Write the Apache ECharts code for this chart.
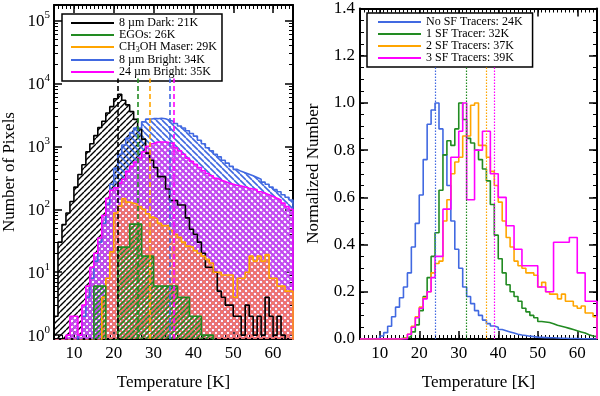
<!DOCTYPE html>
<html>
<head>
<meta charset="utf-8">
<script src="https://cdn.jsdelivr.net/npm/echarts@6/dist/echarts.min.js"></script>
<style>
html,body{margin:0;padding:0;background:#fff}
#main{width:600px;height:396px}
</style>
</head>
<body>
<div id="main"></div>
<script>
// temperature bins (left edges, K)
var tBins = [5,6,7,8,9,10,11,12,13,14,15,16,17,18,19,20,21,22,23,24,25,26,27,28,29,30,31,32,33,34,
             35,36,37,38,39,40,41,42,43,44,45,46,47,48,49,50,51,52,53,54,55,56,57,58,59,60,61,62,63,64];
var egoBins = [15,18,21,24,27,30,33,36,39,42];

// left panel: number of pixels
var darkPix = [2,30,57,87,133,225,357,510,818,1100,1480,1990,2500,3380,4270,5700,6700,5400,4550,3560,
               2680,1900,1300,780,600,460,330,330,210,138,138,117,117,73,48,40,30,20,12,12,
               10,5,4,3,3,2,2,1,3,2,1,2,1,4,2,1,2,1,0,0];
var brightPix = [0,0,0,0,0,0,1,2,4,8,15,30,60,120,250,450,750,1050,1350,1650,
                 1950,1950,2450,2700,2750,2750,2800,2750,2600,2500,2300,2100,1950,1770,1600,1450,1250,1100,950,850,
                 750,680,600,540,480,430,400,380,360,340,320,300,270,250,225,205,190,170,155,140];
var b24Pix = [0,0,0,1,2,2,1,3,6,12,20,35,80,150,200,220,260,300,400,480,
              560,650,820,1000,1100,1170,1170,1170,1150,1100,950,850,750,650,580,520,460,410,370,340,
              310,290,275,260,250,240,235,225,215,210,205,190,180,170,160,150,140,125,110,100];
var maserPix = [0,0,0,0,0,0,0,0,0,0,0,0,4,8,21,87,112,148,130,125,
                120,110,100,85,75,70,60,55,55,46,40,36,30,26,25,22,20,18,16,14,
                10,10,9,9,9,4,8,8,10,18,15,18,15,19,8,8,6,6,5,5];
var egoPix = [6,0,25,58,18,6,6,4,2,1];
var mediansLeft = [21,26,29,34,35];

// right panel: normalized number
var noSF = [0,0,0,0,0.003,0.013,0.027,0.054,0.094,0.135,0.175,0.22,0.28,0.39,0.49,0.61,0.76,0.91,0.97,1.0,
            0.89,0.78,0.65,0.5,0.38,0.3,0.22,0.18,0.15,0.12,0.1,0.08,0.065,0.055,0.05,0.04,0.035,0.03,0.025,0.02,
            0.017,0.015,0.012,0.01,0.008,0.007,0.006,0.005,0.005,0.004,0.003,0.003,0.002,0.002,0.002,0.001,0.001,0.001,0,0];
var oneSF = [0,0,0,0,0,0,0,0,0,0,0.003,0.005,0.01,0.03,0.06,0.12,0.18,0.26,0.35,0.45,
             0.63,0.78,0.84,0.82,0.89,1.0,0.93,0.85,0.83,0.80,0.76,0.72,0.67,0.57,0.44,0.34,0.28,0.23,0.20,0.18,
             0.16,0.13,0.115,0.10,0.09,0.074,0.072,0.07,0.065,0.058,0.054,0.05,0.045,0.04,0.035,0.03,0.025,0.018,0.013,0.01];
var twoSF = [0,0,0,0,0,0,0,0,0,0,0.002,0.005,0.02,0.054,0.094,0.135,0.175,0.2,0.28,0.32,
             0.33,0.5,0.59,0.7,0.75,0.77,0.86,0.86,0.99,1.0,0.82,0.82,0.77,0.71,0.65,0.58,0.5,0.43,0.39,0.33,
             0.31,0.30,0.28,0.28,0.27,0.22,0.24,0.2,0.19,0.19,0.17,0.19,0.16,0.16,0.14,0.13,0.14,0.11,0.11,0.094];
var threeSF = [0,0,0,0,0,0,0,0,0,0,0,0,0.02,0.05,0.09,0.13,0.17,0.2,0.26,0.35,
               0.35,0.55,0.55,0.77,0.77,0.88,1.0,0.59,0.59,0.80,0.80,0.88,0.88,0.70,0.70,0.60,0.60,0.48,0.48,0.38,
               0.38,0.31,0.31,0.31,0.31,0.22,0.22,0.2,0.2,0.41,0.41,0.41,0.41,0.43,0.43,0.28,0.28,0.16,0.16,0.16];
var mediansRight = [24,32,37,39];

var FONT = 'Liberation Serif';
var BLUE = '#4169e1', GREEN = '#228b22', ORANGE = '#ffa500', MAGENTA = '#ff00ff';

// histogram outline as step points (bin edges + value)
function histPoints(edges, vals, width, floor) {
    var pts = [[edges[0], floor]];
    for (var i = 0; i < vals.length; i++) {
        var v = vals[i] > 0 ? vals[i] : floor;
        pts.push([edges[i], v]);
        pts.push([edges[i] + width, v]);
    }
    pts.push([edges[edges.length - 1] + width, floor]);
    return pts;
}

// hatch pattern tiles
function hatch(color, dir, gap, lw) {
    var c = document.createElement('canvas');
    c.width = gap; c.height = gap;
    var ctx = c.getContext('2d');
    ctx.strokeStyle = color;
    ctx.lineWidth = lw;
    function diag(d) {
        ctx.beginPath();
        for (var k = -1; k <= 1; k++) {
            if (d > 0) { ctx.moveTo(k * gap, gap); ctx.lineTo(k * gap + gap, 0); }
            else { ctx.moveTo(k * gap, 0); ctx.lineTo(k * gap + gap, gap); }
        }
        ctx.stroke();
    }
    if (dir === 'x') { diag(1); diag(-1); } else { diag(dir); }
    return {image: c, repeat: 'repeat'};
}

var majorX = [10,20,30,40,50,60];
var majorLog = [1,10,100,1000,10000,100000];
var minorLog = [];
for (var p = 0; p < 6; p++) {
    for (var m = 2; m <= 9; m++) minorLog.push(m * Math.pow(10, p));
}

function xAxes(grid) {
    var base = {type: 'value', gridIndex: grid, min: 5, max: 65, splitLine: {show: false}};
    return [
        Object.assign({}, base, {
            position: 'bottom',
            axisLine: {show: true, onZero: false, lineStyle: {color: '#000', width: 2}},
            axisTick: {inside: true, length: 8, customValues: majorX, lineStyle: {color: '#000', width: 1.5}},
            axisLabel: {customValues: majorX, fontFamily: FONT, fontSize: 17, color: '#000', margin: 6},
            name: 'Temperature [K]', nameLocation: 'middle', nameGap: 35,
            nameTextStyle: {fontFamily: FONT, fontSize: 17, color: '#000'}
        }),
        Object.assign({}, base, {
            position: 'bottom', interval: 1,
            axisLine: {show: false, onZero: false},
            axisTick: {inside: true, length: 4, lineStyle: {color: '#000', width: 1}},
            axisLabel: {show: false}
        }),
        Object.assign({}, base, {
            position: 'top',
            axisLine: {show: true, onZero: false, lineStyle: {color: '#000', width: 2}},
            axisTick: {inside: true, length: 8, customValues: majorX, lineStyle: {color: '#000', width: 1.5}},
            axisLabel: {show: false}
        }),
        Object.assign({}, base, {
            position: 'top', interval: 1,
            axisLine: {show: false, onZero: false},
            axisTick: {inside: true, length: 4, lineStyle: {color: '#000', width: 1}},
            axisLabel: {show: false}
        })
    ];
}

var logBase = {type: 'log', gridIndex: 0, min: 0.868, max: 176000, splitLine: {show: false}};
var linBase = {type: 'value', gridIndex: 1, min: 0, max: 1.4, splitLine: {show: false}};

var yAxes = [
    Object.assign({}, logBase, {
        position: 'left',
        axisLine: {show: true, onZero: false, lineStyle: {color: '#000', width: 2}},
        axisTick: {inside: true, length: 8, customValues: majorLog, lineStyle: {color: '#000', width: 1.5}},
        axisLabel: {
            customValues: majorLog, margin: 4, color: '#000',
            formatter: function (v) { return '{b|10}{s|' + Math.round(Math.log10(v)) + '}'; },
            rich: {
                b: {fontFamily: FONT, fontSize: 17, lineHeight: 17, color: '#000', padding: [3, 0, 1, 0]},
                s: {fontFamily: FONT, fontSize: 11, lineHeight: 11, color: '#000', padding: [0, 0, 10, 0]}
            }
        },
        name: 'Number of Pixels', nameLocation: 'middle', nameGap: 36,
        nameTextStyle: {fontFamily: FONT, fontSize: 17, color: '#000'}
    }),
    Object.assign({}, logBase, {
        position: 'left',
        axisLine: {show: false, onZero: false},
        axisTick: {inside: true, length: 4, customValues: minorLog, lineStyle: {color: '#000', width: 1}},
        axisLabel: {show: false}
    }),
    Object.assign({}, logBase, {
        position: 'right',
        axisLine: {show: true, onZero: false, lineStyle: {color: '#000', width: 2}},
        axisTick: {inside: true, length: 8, customValues: majorLog, lineStyle: {color: '#000', width: 1.5}},
        axisLabel: {show: false}
    }),
    Object.assign({}, logBase, {
        position: 'right',
        axisLine: {show: false, onZero: false},
        axisTick: {inside: true, length: 4, customValues: minorLog, lineStyle: {color: '#000', width: 1}},
        axisLabel: {show: false}
    }),
    Object.assign({}, linBase, {
        position: 'left', interval: 0.2,
        axisLine: {show: true, onZero: false, lineStyle: {color: '#000', width: 2}},
        axisTick: {inside: true, length: 8, lineStyle: {color: '#000', width: 1.5}},
        axisLabel: {
            margin: 5, fontFamily: FONT, fontSize: 17, color: '#000',
            formatter: function (v) { return v.toFixed(1); }
        },
        name: 'Normalized Number', nameLocation: 'middle', nameGap: 38,
        nameTextStyle: {fontFamily: FONT, fontSize: 17, color: '#000'}
    }),
    Object.assign({}, linBase, {
        position: 'left', interval: 0.05,
        axisLine: {show: false, onZero: false},
        axisTick: {inside: true, length: 4, lineStyle: {color: '#000', width: 1}},
        axisLabel: {show: false}
    }),
    Object.assign({}, linBase, {
        position: 'right', interval: 0.2,
        axisLine: {show: true, onZero: false, lineStyle: {color: '#000', width: 2}},
        axisTick: {inside: true, length: 8, lineStyle: {color: '#000', width: 1.5}},
        axisLabel: {show: false}
    }),
    Object.assign({}, linBase, {
        position: 'right', interval: 0.05,
        axisLine: {show: false, onZero: false},
        axisTick: {inside: true, length: 4, lineStyle: {color: '#000', width: 1}},
        axisLabel: {show: false}
    })
];

function leftSeries(name, edges, vals, width, color, pattern, median) {
    return {
        name: name, type: 'line', xAxisIndex: 0, yAxisIndex: 0,
        data: histPoints(edges, vals, width, 0.3),
        symbol: 'none', silent: true, clip: true,
        lineStyle: {color: color, width: 1.6},
        itemStyle: {color: color},
        areaStyle: {color: pattern, opacity: 1, origin: 'start'},
        markLine: {
            symbol: 'none', silent: true, label: {show: false},
            lineStyle: {color: color, type: [5, 3], width: 1.6},
            data: [[{coord: [median, 0.868]}, {coord: [median, 12000]}]]
        }
    };
}

function rightSeries(name, vals, color, median) {
    return {
        name: name, type: 'line', xAxisIndex: 4, yAxisIndex: 4,
        data: histPoints(tBins, vals, 1, 0),
        symbol: 'none', silent: true, clip: true,
        lineStyle: {color: color, width: 1.6},
        itemStyle: {color: color},
        markLine: {
            symbol: 'none', silent: true, label: {show: false},
            lineStyle: {color: color, type: [1.5, 1.5], width: 1.2},
            data: [[{coord: [median, 0]}, {coord: [median, 1.155]}]]
        }
    };
}

var legendText = {fontFamily: FONT, fontSize: 12, color: '#000', lineHeight: 11.5,
    rich: {sub: {fontFamily: FONT, fontSize: 8, color: '#000', padding: [6, 0, 0, 0]}}};

var option = {
    animation: false,
    backgroundColor: '#fff',
    grid: [
        {left: 54, top: 5, width: 239, height: 345},
        {left: 360, top: 3.5, width: 237, height: 346.5}
    ],
    legend: [
        {
            data: ['8 µm Dark: 21K', 'EGOs: 26K', 'CH3OH Maser: 29K', '8 µm Bright: 34K', '24 µm Bright: 35K'],
            left: 62, top: 14, orient: 'vertical', icon: 'rect', itemWidth: 43, itemHeight: 2, itemGap: 0,
            padding: [3, 5, 3, 9], backgroundColor: '#fff', borderColor: '#000', borderWidth: 1.5,
            textStyle: legendText,
            formatter: function (n) { return n.replace('CH3OH', 'CH{sub|3}OH'); }
        },
        {
            data: ['No SF Tracers: 24K', '1 SF Tracer: 32K', '2 SF Tracers: 37K', '3 SF Tracers: 39K'],
            left: 367, top: 13, orient: 'vertical', icon: 'rect', itemWidth: 43, itemHeight: 2, itemGap: 0,
            padding: [3, 10, 3, 11], backgroundColor: '#fff', borderColor: '#000', borderWidth: 1.5,
            textStyle: legendText
        }
    ],
    xAxis: xAxes(0).concat(xAxes(1)),
    yAxis: yAxes,
    series: [
        leftSeries('8 µm Dark: 21K', tBins, darkPix, 1, '#000', hatch('#000', 1, 6, 1.4), mediansLeft[0]),
        leftSeries('8 µm Bright: 34K', tBins, brightPix, 1, BLUE, hatch(BLUE, -1, 6, 1.6), mediansLeft[3]),
        leftSeries('24 µm Bright: 35K', tBins, b24Pix, 1, MAGENTA, hatch('#c846f0', 'x', 6, 1.8), mediansLeft[4]),
        leftSeries('CH3OH Maser: 29K', tBins, maserPix, 1, ORANGE, hatch('#f47860', 'x', 6, 1.6), mediansLeft[2]),
        leftSeries('EGOs: 26K', egoBins, egoPix, 3, GREEN, hatch(GREEN, 1, 5, 1.6), mediansLeft[1]),
        rightSeries('No SF Tracers: 24K', noSF, BLUE, mediansRight[0]),
        rightSeries('1 SF Tracer: 32K', oneSF, GREEN, mediansRight[1]),
        rightSeries('2 SF Tracers: 37K', twoSF, ORANGE, mediansRight[2]),
        rightSeries('3 SF Tracers: 39K', threeSF, MAGENTA, mediansRight[3])
    ]
};

var chart = echarts.init(document.getElementById('main'));
chart.setOption(option);
</script>
</body>
</html>
